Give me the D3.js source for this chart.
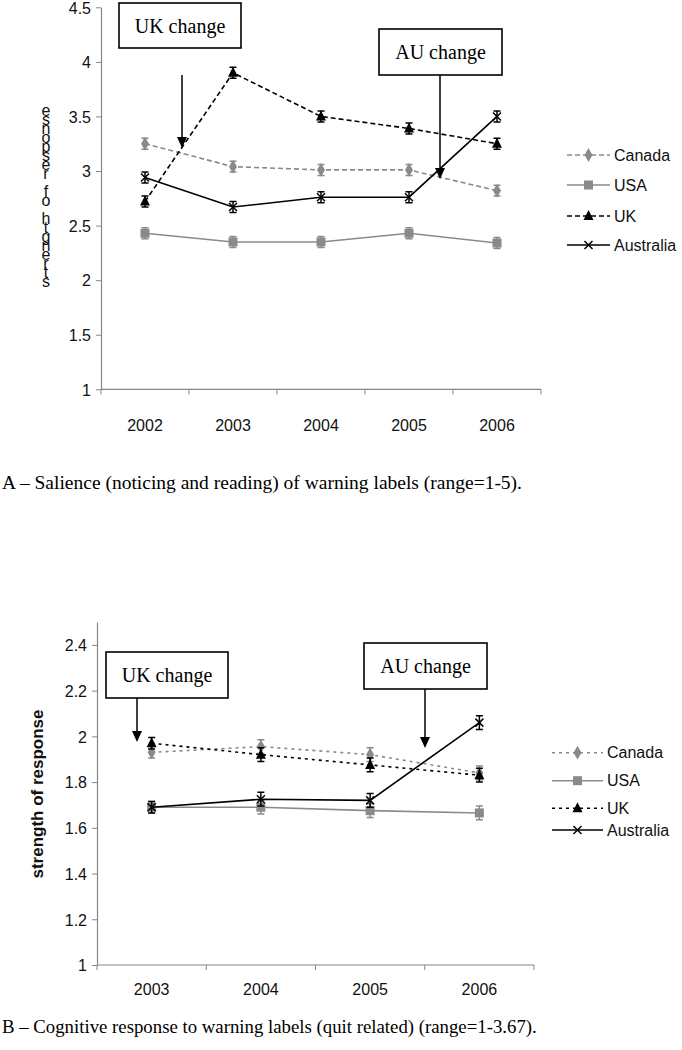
<!DOCTYPE html>
<html><head><meta charset="utf-8">
<script src="https://cdn.jsdelivr.net/npm/d3@7"></script>
<style>body{margin:0;background:#fff}svg{display:block}</style>
</head><body>
<svg id="c" width="682" height="1050"></svg>
<script>
// ---------- Data: panel A ----------
const yearsA = ["2002","2003","2004","2005","2006"];
const canadaA = [3.25,3.04,3.01,3.01,2.82];
const usaA = [2.43,2.35,2.35,2.43,2.34];
const ukA = [2.72,3.90,3.50,3.39,3.25];
const ausA = [2.94,2.67,2.76,2.76,3.50];
const errA = [0.05,0.05,0.05,0.05,0.05];
const ticksA = [1,1.5,2,2.5,3,3.5,4,4.5];
// ---------- Data: panel B ----------
const yearsB = ["2003","2004","2005","2006"];
const canadaB = [1.93,1.955,1.92,1.84];
const usaB = [1.69,1.69,1.675,1.665];
const ukB = [1.97,1.92,1.875,1.83];
const ausB = [1.69,1.725,1.72,2.06];
const errB = [0.025,0.03,0.03,0.03];
const ticksB = [1,1.2,1.4,1.6,1.8,2,2.2,2.4];
const seriesNames = ["Canada","USA","UK","Australia"];

const svg = d3.select("#c");
const GREY = "#8a8a8a", AX = "#868686";

function marker(g, type, color, x, y) {
  if (type === "diamond") {
    g.append("path").attr("d", d3.symbol(d3.symbolDiamond, 55)()).attr("transform",`translate(${x},${y})`).attr("fill",color);
  } else if (type === "square") {
    g.append("rect").attr("x",x-4.5).attr("y",y-4.5).attr("width",9).attr("height",9).attr("fill",color);
  } else if (type === "triangle") {
    g.append("path").attr("d",`M${x},${y-6}L${x+5},${y+4}L${x-5},${y+4}Z`).attr("fill",color);
  } else {
    g.append("path").attr("d",`M${x-4},${y-4}L${x+4},${y+4}M${x+4},${y-4}L${x-4},${y+4}`).attr("stroke",color).attr("stroke-width",1.5);
  }
}

function panel(cfg) {
  const g = svg.append("g");
  const x = d3.scaleBand().domain(cfg.years).range([cfg.x0, cfg.x1]).padding(0);
  const y = d3.scaleLinear().domain(cfg.ydom).range([cfg.yb, cfg.yt]);
  // y axis
  const ya = g.append("g").attr("transform",`translate(${cfg.x0},0)`)
    .call(d3.axisLeft(y).tickValues(cfg.ticks).tickSize(5).tickSizeOuter(0).tickFormat(d => String(+d.toFixed(1))));
  ya.select(".domain").attr("stroke",AX).attr("stroke-width",1.2);
  ya.selectAll(".tick line").attr("stroke",AX);
  ya.selectAll(".tick text").attr("font-family","Liberation Sans, Arial").attr("font-size",cfg.fs).attr("fill","#111").attr("x",-10).attr("dy","0.36em");
  // x axis
  const xa = g.append("g");
  xa.append("line").attr("x1",cfg.x0).attr("x2",cfg.x1).attr("y1",cfg.yb).attr("y2",cfg.yb).attr("stroke",AX).attr("stroke-width",1.2);
  const edges = cfg.years.map(d => x(d)).concat([x.range()[1]]);
  edges.forEach(e => xa.append("line").attr("x1",e).attr("x2",e).attr("y1",cfg.yb).attr("y2",cfg.yb+5).attr("stroke",AX));
  cfg.years.forEach(d => xa.append("text").attr("x",x(d)+x.bandwidth()/2).attr("y",cfg.yb+cfg.xlabDy)
    .attr("text-anchor","middle").attr("font-family","Liberation Sans, Arial").attr("font-size",cfg.fs).attr("fill","#111").text(d));
  // series
  const ser = [
    {v:cfg.can, c:GREY, dash:cfg.dash, m:"diamond"},
    {v:cfg.usa, c:GREY, dash:null, m:"square"},
    {v:cfg.uk, c:"#000", dash:cfg.dash, m:"triangle"},
    {v:cfg.aus, c:"#000", dash:null, m:"x"}
  ];
  const cx = d => x(d)+x.bandwidth()/2;
  ser.forEach(s => {
    const line = d3.line().x((v,i)=>cx(cfg.years[i])).y(v=>y(v));
    g.append("path").attr("d",line(s.v)).attr("fill","none").attr("stroke",s.c).attr("stroke-width",1.6)
      .attr("stroke-dasharray",s.dash);
    s.v.forEach((v,i) => {
      const e = cfg.err[i], px = cx(cfg.years[i]);
      g.append("path").attr("d",`M${px},${y(v-e)}V${y(v+e)}M${px-3.5},${y(v-e)}H${px+3.5}M${px-3.5},${y(v+e)}H${px+3.5}`)
        .attr("stroke",s.c).attr("stroke-width",1.5).attr("fill","none");
      marker(g, s.m, s.c, px, y(v));
    });
  });
  // legend
  ser.forEach((s,i) => {
    const ly = cfg.legY[i];
    g.append("line").attr("x1",cfg.legX0).attr("x2",cfg.legX1).attr("y1",ly).attr("y2",ly)
      .attr("stroke",s.c).attr("stroke-width",1.6).attr("stroke-dasharray",s.dash);
    marker(g, s.m, s.c, (cfg.legX0+cfg.legX1)/2, ly);
    g.append("text").attr("x",cfg.legX1+4).attr("y",ly).attr("dy","0.36em")
      .attr("font-family","Liberation Sans, Arial").attr("font-size",16).attr("fill","#111").text(seriesNames[i]);
  });
  // annotations
  cfg.notes.forEach(n => {
    g.append("rect").attr("x",n.bx).attr("y",n.by).attr("width",n.bw).attr("height",n.bh)
      .attr("fill","#fff").attr("stroke","#000").attr("stroke-width",1.6);
    g.append("text").attr("x",n.bx+n.bw/2).attr("y",n.by+n.bh/2+7).attr("text-anchor","middle")
      .attr("font-family","Liberation Serif, Times New Roman").attr("font-size",20).attr("fill","#000").text(n.t);
    g.append("line").attr("x1",n.ax).attr("x2",n.ax).attr("y1",n.ay0).attr("y2",n.ay1-10).attr("stroke","#000").attr("stroke-width",1.5);
    g.append("path").attr("d",`M${n.ax-5},${n.ay1-11}L${n.ax+5},${n.ay1-11}L${n.ax},${n.ay1}Z`).attr("fill","#000");
  });
  return {x,y,g};
}

panel({years:yearsA, x0:101, x1:541, ydom:[1,4.5], yb:389.3, yt:7.3, ticks:ticksA, fs:16, xlabDy:42,
  can:canadaA, usa:usaA, uk:ukA, aus:ausA, err:errA, dash:"5,3",
  legY:[155,185,216,245], legX0:567, legX1:610,
  notes:[{t:"UK change", bx:119, by:3, bw:122, bh:45, ax:182, ay0:75, ay1:148},
         {t:"AU change", bx:379, by:29, bw:123, bh:46, ax:440, ay0:75, ay1:179}]});

panel({years:yearsB, x0:97, x1:534, ydom:[1,2.5], yb:965, yt:622, ticks:ticksB, fs:16, xlabDy:30,
  can:canadaB, usa:usaB, uk:ukB, aus:ausB, err:errB, dash:"3,4",
  legY:[752.7,780.7,808.3,830], legX0:552, legX1:603,
  notes:[{t:"UK change", bx:106, by:652, bw:122, bh:46, ax:137, ay0:698, ay1:742},
         {t:"AU change", bx:364, by:643, bw:123, bh:46, ax:425, ay0:689, ay1:748}]});

// Panel A y label: reversed, upright, stacked characters (single text element)
const labA = "strength of response".split("").reverse().join("");
svg.append("text").attr("x",46).attr("y",102)
  .attr("style","writing-mode:vertical-rl;text-orientation:upright;letter-spacing:-8px")
  .attr("font-family","Liberation Sans, Arial").attr("font-size",16).attr("fill","#111").text(labA);
// Panel B y label
svg.append("text").attr("transform","translate(43,794) rotate(-90)").attr("text-anchor","middle")
  .attr("font-family","Liberation Sans, Arial").attr("font-size",17).attr("font-weight","bold").attr("fill","#111")
  .text("strength of response");
// captions
svg.append("text").attr("x",2).attr("y",489).attr("font-family","Liberation Serif, Times New Roman").attr("font-size",19.5)
  .attr("fill","#000").text("A – Salience (noticing and reading) of warning labels (range=1-5).");
svg.append("text").attr("x",2).attr("y",1033).attr("font-family","Liberation Serif, Times New Roman").attr("font-size",18.8)
  .attr("fill","#000").text("B – Cognitive response to warning labels (quit related) (range=1-3.67).");
</script>
</body></html>
